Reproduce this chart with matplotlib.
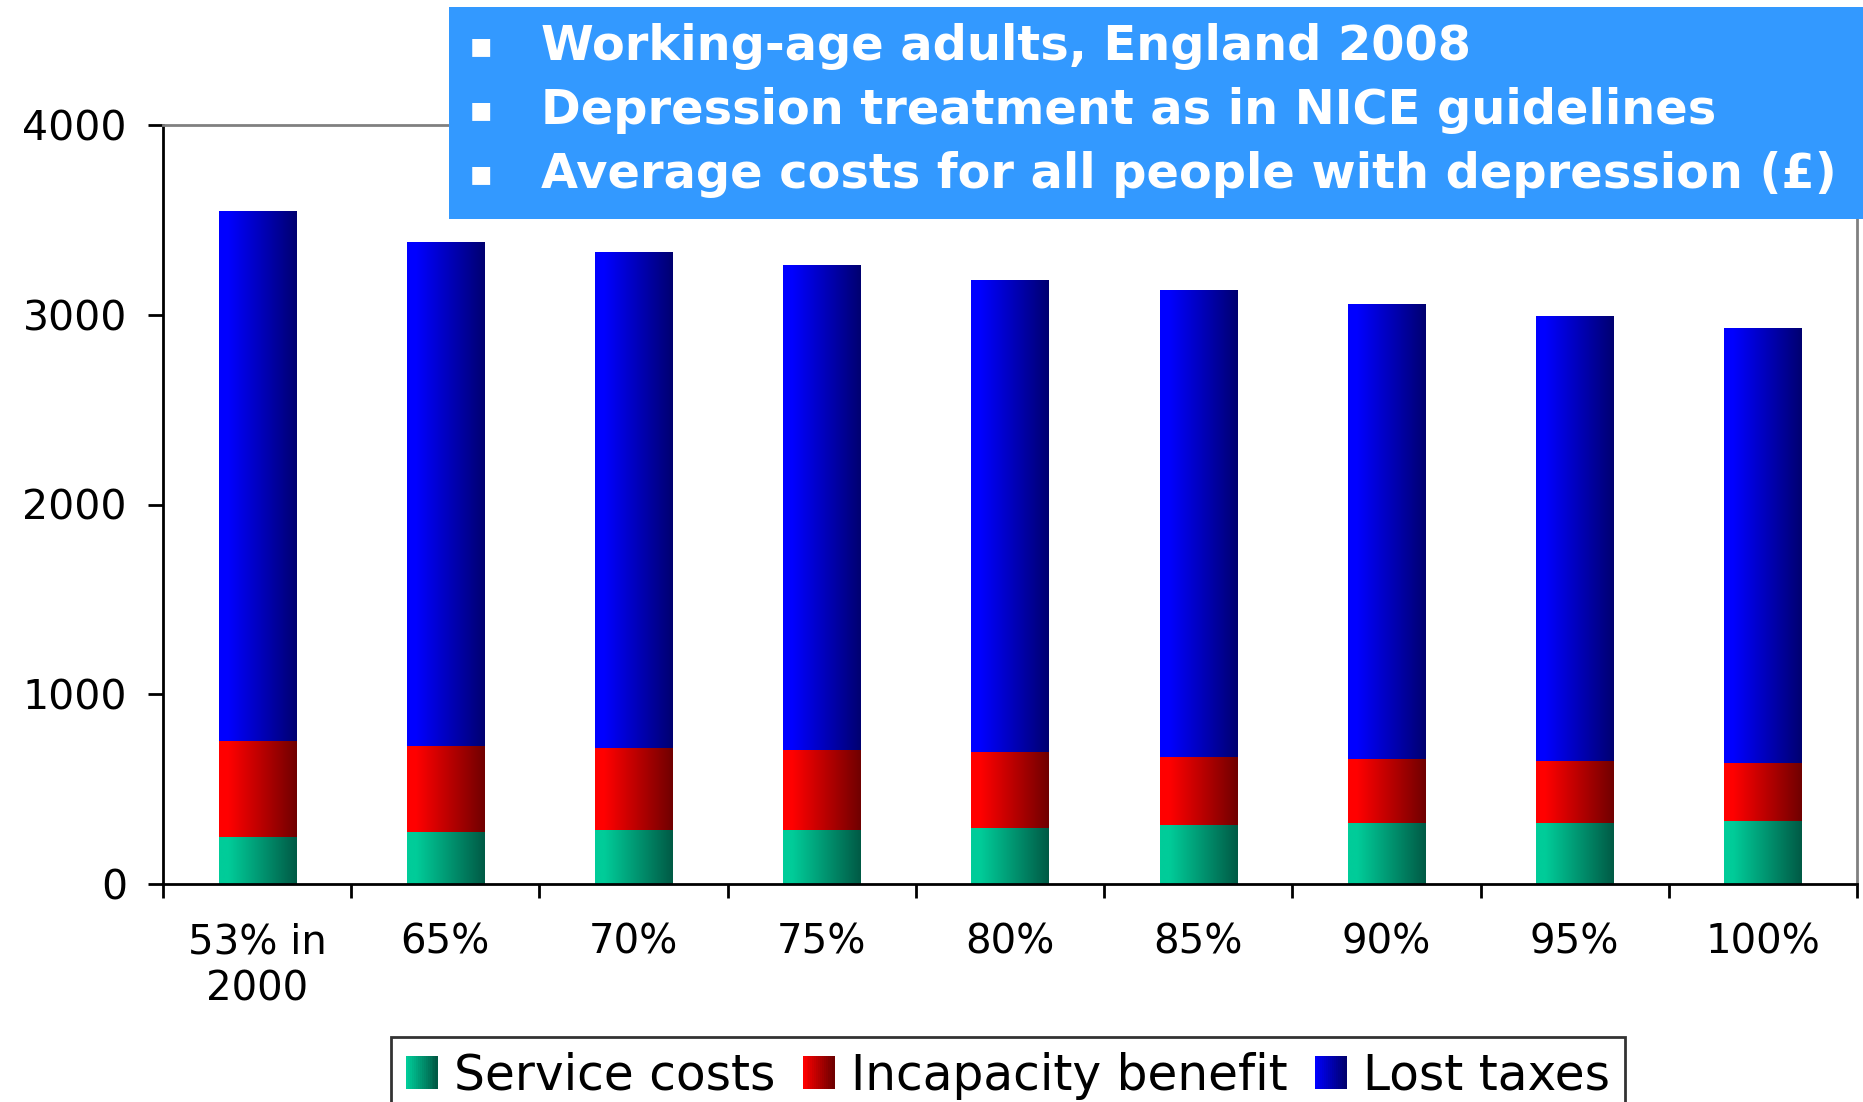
import numpy as np
import matplotlib
matplotlib.use('Agg')
import matplotlib.pyplot as plt
from matplotlib.patches import Rectangle
from matplotlib.colors import LinearSegmentedColormap
from matplotlib.legend_handler import HandlerBase

# data (average cost per person with depression, GBP)
categories = ['53% in\n2000', '65%', '70%', '75%', '80%', '85%', '90%', '95%', '100%']
service_costs = [248, 274, 284, 284, 295, 309, 321, 321, 332]
incapacity_benefit = [505, 454, 432, 421, 400, 359, 337, 326, 305]
lost_taxes = [2793, 2655, 2609, 2551, 2487, 2456, 2397, 2340, 2292]
series_names = ['Service costs', 'Incapacity benefit', 'Lost taxes']
title_lines = ['Working-age adults, England 2008',
               'Depression treatment as in NICE guidelines',
               'Average costs for all people with depression (£)']

# gradient colours, light on the left -> dark on the right
grad = {
    'Service costs': ('#00cc99', '#005a45'),
    'Incapacity benefit': ('#ff0000', '#700000'),
    'Lost taxes': ('#0000ff', '#000070'),
}

plt.rcParams['font.family'] = ['DejaVu Sans']

fig = plt.figure(figsize=(18.63, 11.02), dpi=100)
ax = fig.add_axes([163/1863, 1-884/1102, (1857-163)/1863, (884-125)/1102])

x = np.arange(len(categories))
width = 0.41
bottom = np.zeros(len(categories))
values = [service_costs, incapacity_benefit, lost_taxes]

for name, vals in zip(series_names, values):
    c0, c1 = grad[name]
    cmap = LinearSegmentedColormap.from_list(name, [(0, c0), (0.12, c0), (1, c1)], N=256)
    bars = ax.bar(x, vals, width, bottom=bottom, color='none', edgecolor='none')
    g = np.linspace(0, 1, 256).reshape(1, -1)
    for b in bars:
        bx, by = b.get_xy()
        ax.imshow(g, cmap=cmap, extent=[bx, bx + b.get_width(), by, by + b.get_height()],
                  aspect='auto', interpolation='bilinear', zorder=2)
    bottom += np.array(vals)

ax.set_xlim(-0.5, len(categories) - 0.5)
ax.set_ylim(0, 4000)
ax.set_yticks([0, 1000, 2000, 3000, 4000])
ax.set_xticks(x)
ax.set_xticklabels(categories)
ax.set_xticks(np.arange(-0.5, len(categories)), minor=True)
ax.tick_params(axis='x', which='major', length=0, pad=28, labelsize=29)
ax.tick_params(axis='x', which='minor', length=10, width=2, direction='out')
ax.tick_params(axis='y', length=11, width=2, pad=15, labelsize=29.5)

for s in ['left', 'bottom']:
    ax.spines[s].set_color('black')
    ax.spines[s].set_linewidth(2)
for s in ['top', 'right']:
    ax.spines[s].set_color('#808080')
    ax.spines[s].set_linewidth(2)


# legend handles with a horizontal gradient
class GradHandler(HandlerBase):
    def __init__(self, c0, c1):
        super().__init__()
        self.c0, self.c1 = c0, c1

    def create_artists(self, legend, orig_handle, xdescent, ydescent, width, height,
                       fontsize, trans):
        cm = LinearSegmentedColormap.from_list('h', [self.c0, self.c1])
        n = 16
        arts = []
        for i in range(n):
            r = Rectangle((-xdescent + width * i / n, -ydescent), width / n + 0.3, height,
                          facecolor=cm(i / (n - 1)), edgecolor='none', transform=trans)
            arts.append(r)
        return arts


handles = [Rectangle((0, 0), 1, 1) for _ in series_names]
leg = fig.legend(handles, series_names, loc='upper center',
                 bbox_to_anchor=(1008/1863, 1-1037/1102), ncol=3, fontsize=35,
                 frameon=True, fancybox=False, edgecolor='black', borderaxespad=0,
                 handlelength=0.65, handleheight=0.65, handletextpad=0.35,
                 columnspacing=0.55, borderpad=0.3,
                 handler_map={h: GradHandler(*grad[n]) for h, n in zip(handles, series_names)})
leg.get_frame().set_linewidth(2)

# title box
fig.patches.append(Rectangle((449/1863, 1-219/1102), 1.0, 212/1102, transform=fig.transFigure,
                             facecolor='#3399ff', edgecolor='none', zorder=5))
for i, line in enumerate(title_lines):
    ybase = 1 - (60 + 64*i)/1102
    fig.text(469/1863, ybase + 4/1102, '\u25aa', color='white', fontsize=26, fontweight='bold',
             va='baseline', zorder=6)
    fig.text(541/1863, ybase, line, color='white', fontsize=34.5, fontweight='bold',
             va='baseline', zorder=6)

fig.savefig('out.png', dpi=100)
